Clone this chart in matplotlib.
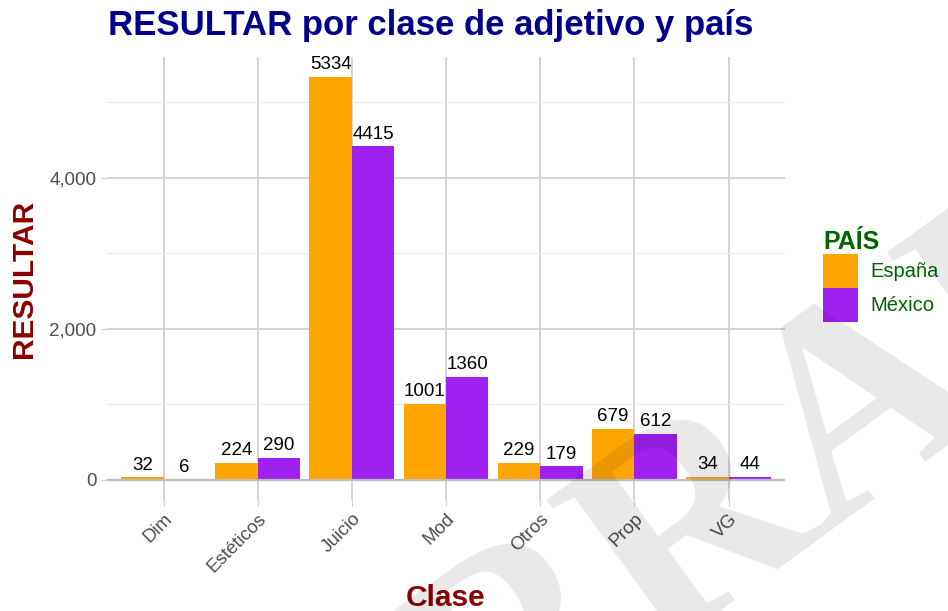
import matplotlib
matplotlib.use("Agg")
import matplotlib.pyplot as plt
import numpy as np
from matplotlib.ticker import FuncFormatter, MultipleLocator

plt.rcParams['font.family'] = ['Liberation Sans', 'DejaVu Sans']

clases = ["Dim", "Estéticos", "Juicio", "Mod", "Otros", "Prop", "VG"]
espana = [32, 224, 5334, 1001, 229, 679, 34]
mexico = [6, 290, 4415, 1360, 179, 612, 44]
paises = ["España", "México"]
colores = ["#FFA500", "#A020F0"]

fig = plt.figure(figsize=(9.48, 6.11), dpi=100)
ax = fig.add_axes([107/948, 1 - 500/611, (785 - 107)/948, (500 - 57)/611])

x = np.arange(len(clases))
w = 0.45
for i, (vals, col, lab) in enumerate(zip([espana, mexico], colores, paises)):
    pos = x + (i - 0.5) * w
    ax.bar(pos, vals, width=w, color=col, label=lab, zorder=3)
    for p, v in zip(pos, vals):
        ax.text(p, v + 50, str(v), ha='center', va='bottom', fontsize=13.5, color='black', zorder=4)

ax.axhline(0, color='#bdbdbd', lw=1.6, zorder=3.5)
ax.set_xlim(-0.6, len(clases) - 0.4)
ax.set_ylim(-267, 5600)
ax.yaxis.set_major_locator(MultipleLocator(2000))
ax.yaxis.set_minor_locator(MultipleLocator(1000))
ax.yaxis.set_major_formatter(FuncFormatter(lambda v, p: f"{int(v):,}"))
ax.set_xticks(x)
ax.set_xticklabels(clases, rotation=45, ha='right', rotation_mode='anchor', fontsize=13.5, color='#4d4d4d')
ax.tick_params(axis='y', labelsize=13.5, labelcolor='#4d4d4d', color='#cccccc', length=4)
ax.tick_params(axis='y', which='minor', length=0)
ax.tick_params(axis='x', color='#cccccc', length=4)
ax.grid(which='major', color='#d0d0d0', lw=1.3, zorder=0)
ax.grid(which='minor', axis='y', color='#ebebeb', lw=0.8, zorder=0)
for s in ax.spines.values():
    s.set_visible(False)

ax.set_xlabel("Clase", fontsize=21.5, fontweight='bold', color='#8B0000', labelpad=6)
ax.set_ylabel("RESULTAR", fontsize=21.5, fontweight='bold', color='#8B0000', labelpad=8)
fig.text(108/948, 1 - 26/611, "RESULTAR por clase de adjetivo y país", fontsize=25,
         fontweight='bold', color='#00008B', va='center', ha='left')

leg = ax.legend(title="PAÍS", loc='upper left', bbox_to_anchor=(807/948, 1 - 214/611),
                bbox_transform=fig.transFigure, frameon=False, fontsize=14.5,
                handlelength=1.75, handleheight=2.2, handletextpad=0.6, labelspacing=0.0,
                borderpad=0.3)
leg.get_title().set_fontweight('bold')
leg.get_title().set_fontsize(18)
leg.get_title().set_color('#006400')
leg._legend_box.align = 'left'
for t in leg.get_texts():
    t.set_color('#006400')

# marca de agua
fig.text(790/948, 1 - 470/611, "BORRADOR", fontsize=210, family='Liberation Serif',
         fontweight='bold', color='black', alpha=0.09, rotation=36,
         ha='center', va='center', zorder=10)

fig.savefig("out.png", dpi=100)
